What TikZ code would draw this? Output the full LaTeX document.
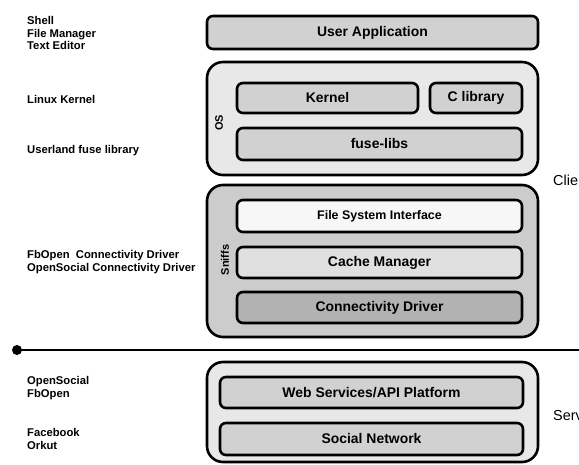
\documentclass[tikz,border=0pt]{standalone}
\usepackage{fontspec}
\setmainfont{Liberation Sans}
\begin{document}
\begin{tikzpicture}[x=1bp,y=-1bp,line join=round,
  layer/.style={draw,line width=2.6bp,rounded corners=6bp,inner sep=0pt,
    font=\bfseries\fontsize{14}{16}\selectfont},
  group/.style={draw,line width=2.6bp,rounded corners=16bp,inner sep=0pt,
    minimum width=331bp},
  side/.style={anchor=west,align=left,inner sep=0pt,
    font=\bfseries\fontsize{11.3}{12.8}\selectfont},
  tag/.style={rotate=90,inner sep=0pt,font=\bfseries\fontsize{11}{13}\selectfont},
  tier/.style={anchor=west,inner sep=0pt,font=\fontsize{14.5}{16}\selectfont},
]
\useasboundingbox (0,0) rectangle (579,465);
\clip (0,0) rectangle (579,465);
%%
  % Node: User Application
  \node [layer,fill=black!18,minimum width=331bp,minimum height=33bp] (app) at (372.5,32.5) {User Application};
  % Node: OS
  \node [group,fill=black!9,minimum height=113bp] (os) at (372.5,118.5) {};
  \node [tag] (oslabel) at (219,123) {OS};
  \node [layer,fill=black!18,minimum width=181bp,minimum height=30bp] (kernel) at (327.5,98) {Kernel};
  \node [layer,fill=black!18,minimum width=92bp,minimum height=30bp] (clib) at (476,98) {C library};
  \node [layer,fill=black!18,minimum width=285bp,minimum height=32bp] (fuse) at (379.5,144) {fuse-libs};
  % Node: Sniffs
  \node [group,fill=black!20,minimum height=152bp] (sniffs) at (372.5,261) {};
  \node [tag] (sniffslabel) at (225,260) {Sniffs};
  \node [layer,fill=black!3,minimum width=285bp,minimum height=32bp,font=\bfseries\fontsize{12.5}{14}\selectfont] (fsi) at (379.5,216) {File System Interface};
  \node [layer,fill=black!12,minimum width=285bp,minimum height=31bp] (cache) at (379.5,262.5) {Cache Manager};
  \node [layer,fill=black!30,minimum width=285bp,minimum height=31bp] (conn) at (379.5,307.5) {Connectivity Driver};
  % Edge: client / server split
  \coordinate (splitend) at (585,350);
  \node [circle,fill=black,inner sep=0pt,minimum size=10bp] (split) at (17,350) {};
  \draw [line width=2.6bp] (split.center) -- (splitend);
  % Node: Server
  \node [group,fill=black!9,minimum height=100bp] (server) at (372.5,412) {};
  \node [layer,fill=black!18,minimum width=303bp,minimum height=31bp] (api) at (371.5,392.5) {Web Services/API Platform};
  \node [layer,fill=black!18,minimum width=303bp,minimum height=32bp] (social) at (371.5,439) {Social Network};
  % Labels
  \node [side] (apps) at (27,33) {Shell\\File Manager\\Text Editor};
  \node [side] (linux) at (27,99) {Linux Kernel};
  \node [side] (userland) at (27,151) {Userland fuse library};
  \node [side] (drivers) at (27,262) {FbOpen\ \ Connectivity Driver\\OpenSocial Connectivity Driver};
  \node [side] (apis) at (27,388) {OpenSocial\\FbOpen};
  \node [side] (networks) at (27,439) {Facebook\\Orkut};
  \node [tier] (client) at (553,180) {Client};
  \node [tier] (serverlabel) at (553,416) {Server};
%
\end{tikzpicture}
\end{document}
